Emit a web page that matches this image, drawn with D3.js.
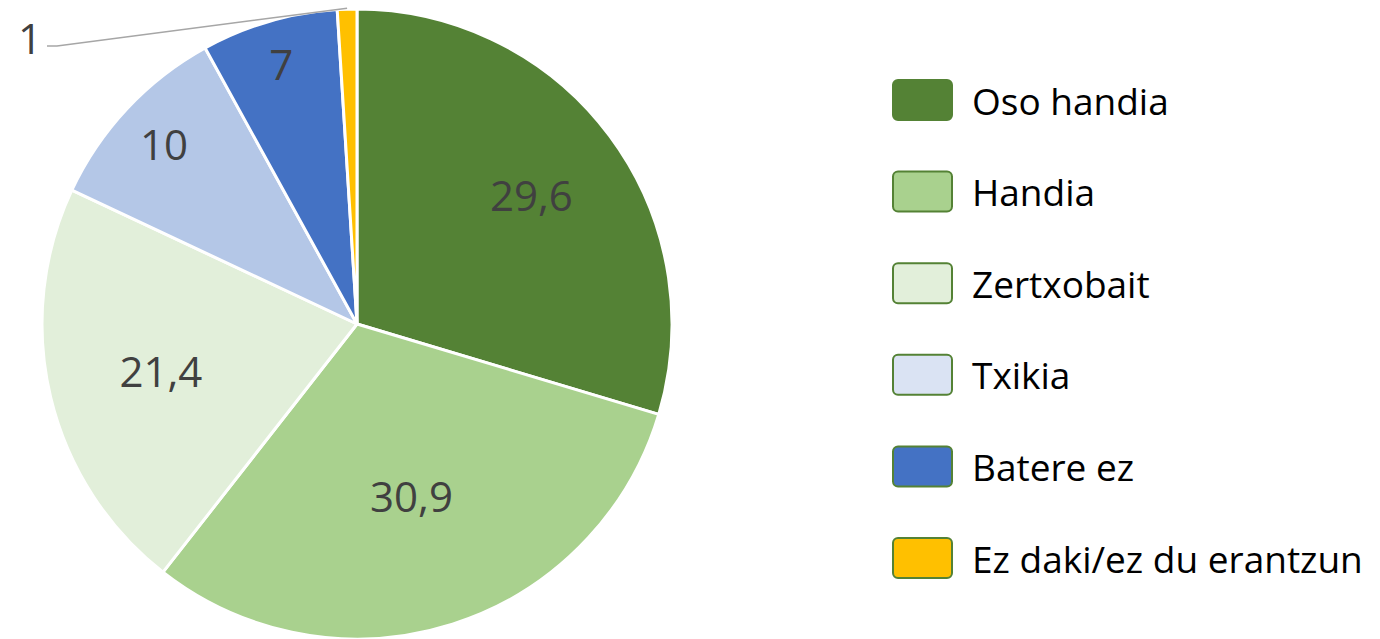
<!DOCTYPE html>
<html>
<head>
<meta charset="utf-8">
<script src="https://cdn.jsdelivr.net/npm/d3@7"></script>
<style>
  html, body { margin: 0; padding: 0; background: #ffffff; }
  svg { display: block; }
</style>
</head>
<body>
<svg id="chart" width="1380" height="639"></svg>
<script>
// ---- data ----
const categories = ["Oso handia", "Handia", "Zertxobait", "Txikia", "Batere ez", "Ez daki/ez du erantzun"];
const values = [29.6, 30.9, 21.4, 10, 7, 1];
const labels = ["29,6", "30,9", "21,4", "10", "7", "1"];
const sliceColors = ["#548235", "#A9D18E", "#E2EFDA", "#B4C7E7", "#4472C4", "#FFC000"];
const legendColors = ["#548235", "#A9D18E", "#E2EFDA", "#DAE3F3", "#4472C4", "#FFC000"];

// ---- layout config ----
const W = 1380, H = 639;
const cx = 357, cy = 324, R = 315;
const labelRadiusFactor = [0.69, 0.57, 0.64, 0.84, 0.86, null];
const outsideLabel = { index: 5, x: 30, y: 37 };

const svg = d3.select("#chart");
svg.append("rect").attr("width", W).attr("height", H).attr("fill", "#fff");

const pie = d3.pie().sort(null).value(d => d)(values);
const arc = d3.arc().innerRadius(0).outerRadius(R);

const g = svg.append("g").attr("transform", `translate(${cx},${cy})`);

g.selectAll("path.slice")
  .data(pie)
  .join("path")
  .attr("class", "slice")
  .attr("d", arc)
  .attr("fill", (d, i) => sliceColors[i])
  .attr("stroke", "#ffffff")
  .attr("stroke-width", 3)
  .attr("stroke-linejoin", "round");

// inside labels
g.selectAll("text.lbl")
  .data(pie.filter((d, i) => labelRadiusFactor[i] != null))
  .join("text")
  .attr("class", "lbl")
  .attr("transform", d => {
    const f = labelRadiusFactor[d.index];
    const a = d3.arc().innerRadius(R * f).outerRadius(R * f);
    const [x, y] = a.centroid(d);
    return `translate(${x},${y})`;
  })
  .attr("text-anchor", "middle")
  .attr("dominant-baseline", "central")
  .attr("font-family", "'Open Sans', sans-serif")
  .attr("font-size", 42)
  .attr("fill", "#404040")
  .text(d => labels[d.index]);

// outside label with leader line
{
  const d = pie[outsideLabel.index];
  const edge = d3.arc().innerRadius(R).outerRadius(R).centroid(d);
  const ex = edge[0] + cx, ey = edge[1] + cy;
  const lx = outsideLabel.x, ly = outsideLabel.y;
  const pts = [[lx + 17, ly + 9], [lx + 27, ly + 9], [ex, ey - 1]];
  svg.append("polyline")
    .attr("points", pts.map(p => p.join(",")).join(" "))
    .attr("fill", "none")
    .attr("stroke", "#a6a6a6")
    .attr("stroke-width", 1.5);
  svg.append("text")
    .attr("x", lx).attr("y", ly)
    .attr("text-anchor", "middle")
    .attr("dominant-baseline", "central")
    .attr("font-family", "'Open Sans', sans-serif")
    .attr("font-size", 42)
    .attr("fill", "#404040")
    .text(labels[outsideLabel.index]);
}

// legend
const ly = d3.scalePoint().domain(categories).range([100, 558]);
const leg = svg.append("g");
const item = leg.selectAll("g.item")
  .data(categories)
  .join("g")
  .attr("class", "item")
  .attr("transform", d => `translate(0,${ly(d)})`);
item.append("rect")
  .attr("x", 893).attr("y", -20)
  .attr("width", 59).attr("height", 40)
  .attr("rx", 5).attr("ry", 5)
  .attr("fill", (d, i) => legendColors[i])
  .attr("stroke", "#548235")
  .attr("stroke-width", 2);
item.append("text")
  .attr("x", 972).attr("y", 0)
  .attr("dominant-baseline", "central")
  .attr("font-family", "'Open Sans', sans-serif")
  .attr("font-size", 37)
  .attr("fill", "#000")
  .text(d => d);
</script>
</body>
</html>
